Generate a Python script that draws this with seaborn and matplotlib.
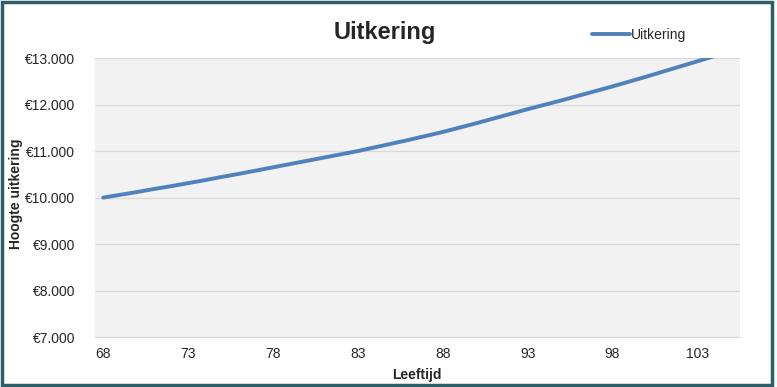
#import libraries
import numpy as np
import pandas as pd
import matplotlib
matplotlib.use("Agg")
import matplotlib.pyplot as plt
from matplotlib.ticker import FuncFormatter
from matplotlib.patches import Rectangle
import seaborn as sns

#data
leeftijd = list(range(68, 106))
uitkering = [10000, 10060, 10120, 10185, 10245, 10310,
             10375, 10445, 10510, 10580, 10650,
             10720, 10790, 10860, 10930, 11000,
             11080, 11160, 11240, 11325, 11410,
             11505, 11600, 11700, 11800, 11900,
             11995, 12090, 12190, 12290, 12390,
             12495, 12600, 12710, 12820, 12930,
             13040, 13150]
x_ticks = [68, 73, 78, 83, 88, 93, 98, 103]
y_ticks = [7000, 8000, 9000, 10000, 11000, 12000, 13000]

df = pd.DataFrame({'Leeftijd': leeftijd, 'Uitkering': uitkering})

sns.set_style("white")
plt.rcParams['font.family'] = ['Liberation Sans', 'DejaVu Sans']

fig = plt.figure(figsize=(7.77, 3.87), dpi=100)
ax = fig.add_axes([0.122, 0.129, 0.830, 0.721])
ax.set_facecolor('#F2F2F2')

sns.lineplot(data=df, x='Leeftijd', y='Uitkering', ax=ax,
             color='#4F81BD', linewidth=2.8, label='Uitkering')

ax.set_xlim(67.5, 105.5)
ax.set_ylim(7000, 13000)
ax.set_xticks(x_ticks)
ax.set_yticks(y_ticks)
ax.yaxis.set_major_formatter(
    FuncFormatter(lambda v, p: "€" + f"{v:,.0f}".replace(',', '.')))
ax.grid(axis='y', color='#D9D9D9', linewidth=0.9)
ax.set_axisbelow(True)
for s in ['top', 'right', 'left']:
    ax.spines[s].set_visible(False)
ax.spines['bottom'].set_color('#D9D9D9')
ax.tick_params(axis='y', labelsize=10, length=0, pad=14)
ax.tick_params(axis='x', labelsize=10, length=0, pad=7)

ax.set_xlabel('Leeftijd', fontsize=10, fontweight='bold', labelpad=5)
ax.set_ylabel('')
fig.text(0.020, 0.50, 'Hoogte uitkering', rotation=90, fontsize=10,
         fontweight='bold', ha='center', va='center')
fig.text(0.495, 0.915, 'Uitkering', fontsize=17, fontweight='bold',
         ha='center', va='center')

leg = ax.legend(loc='center left', bbox_to_anchor=(0.763, 1.082), frameon=False,
                fontsize=10, handlelength=2.7, handletextpad=0.1,
                borderaxespad=0)

#outer border
fig.patches.append(Rectangle((0.003, 0.005), 0.991, 0.989, transform=fig.transFigure,
                             fill=False, edgecolor='#2E5F68', linewidth=2.5))

fig.savefig('out.png', dpi=100)
